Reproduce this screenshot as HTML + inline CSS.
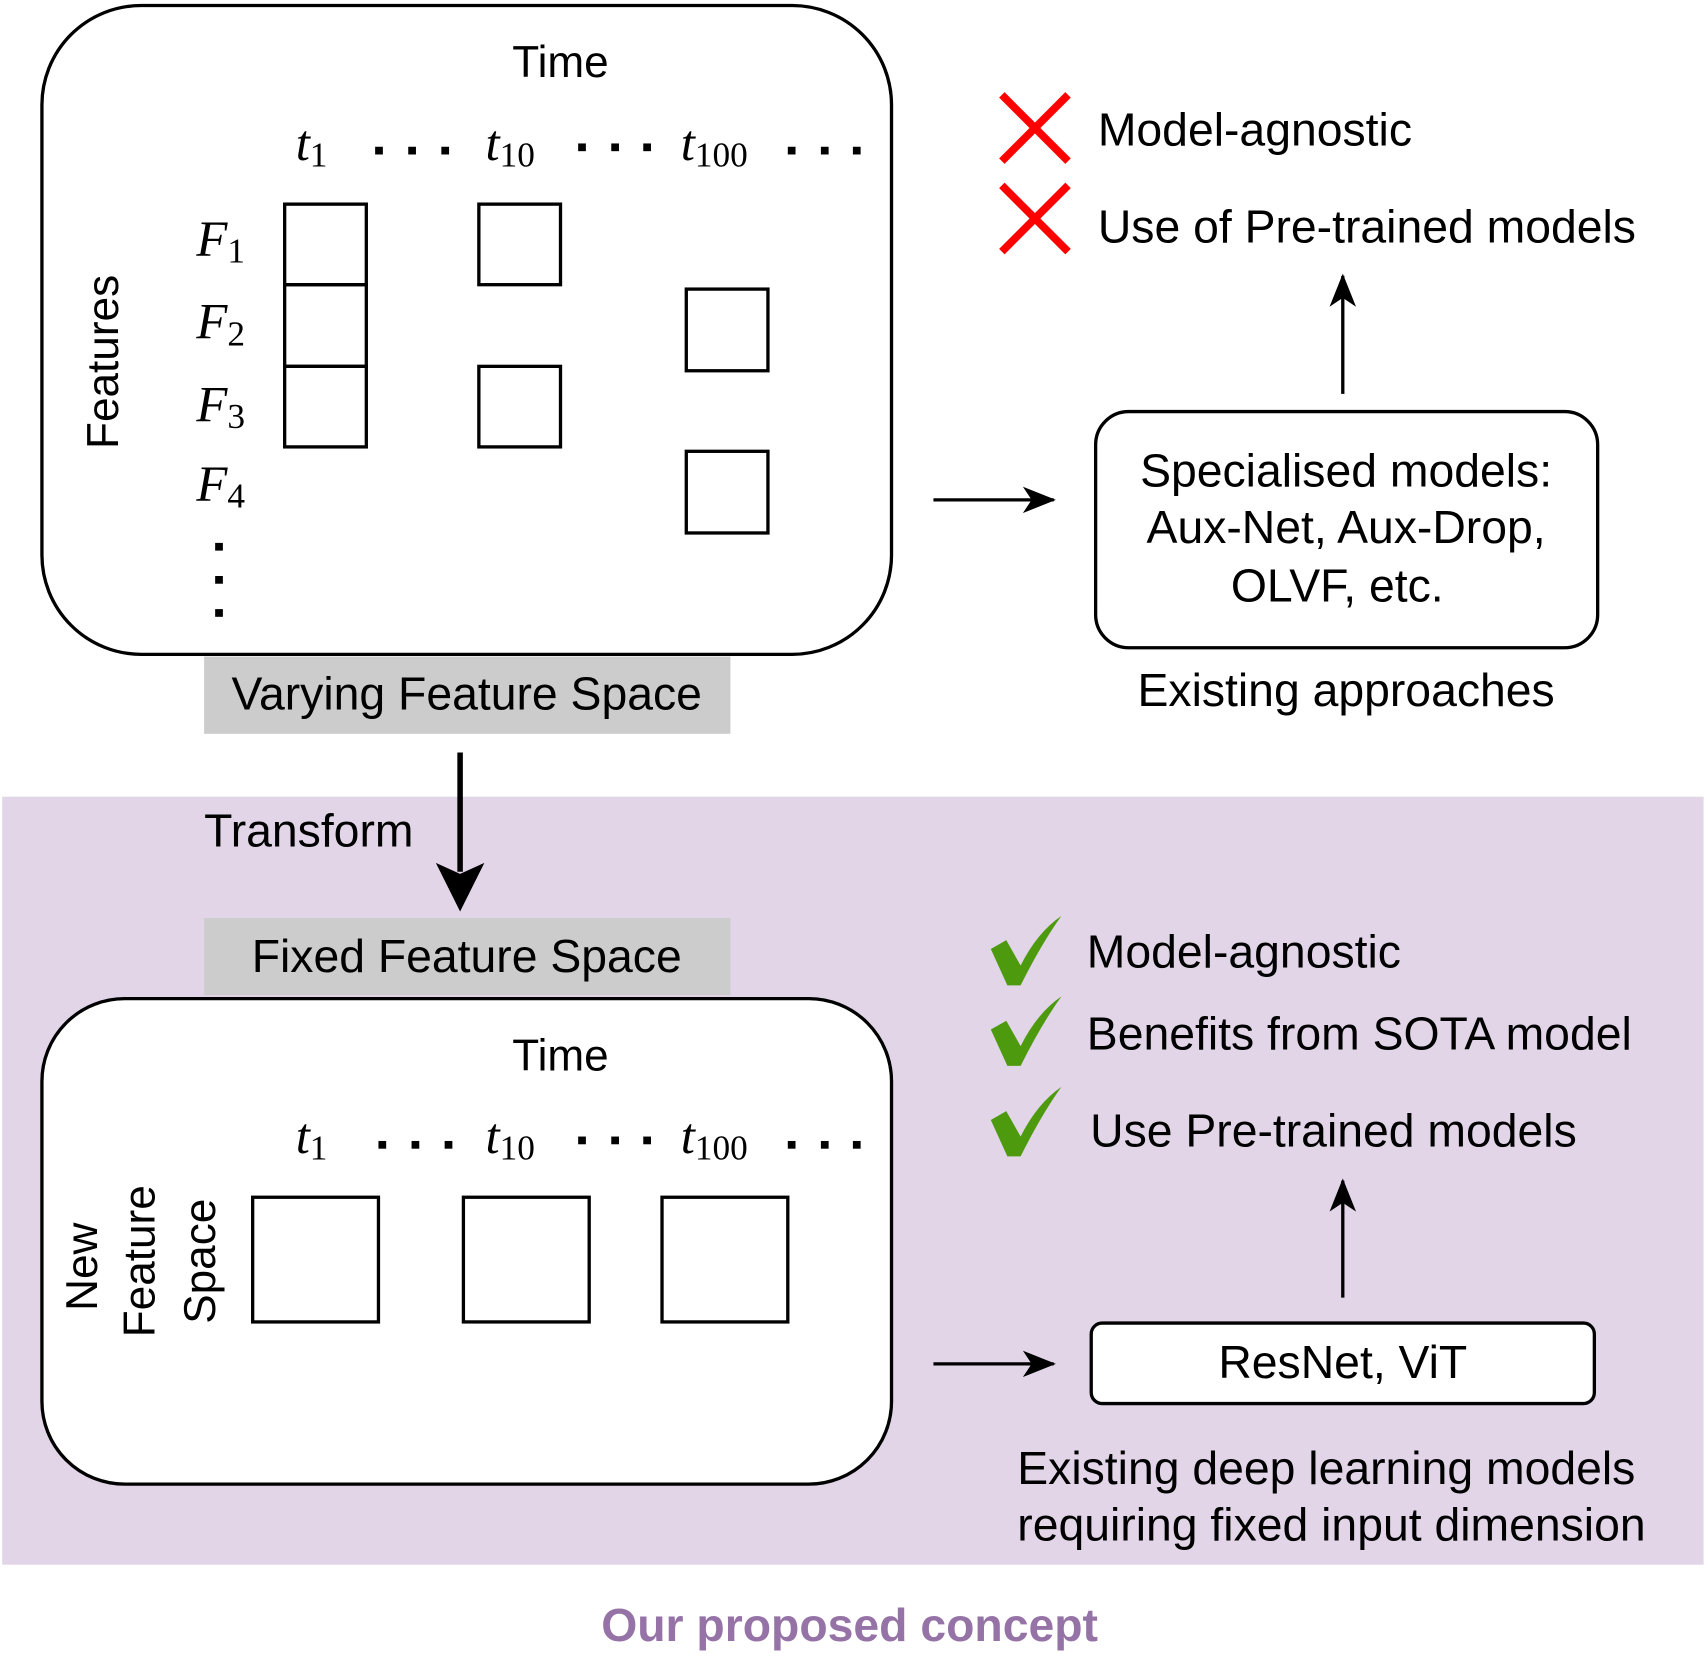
<!DOCTYPE html>
<html><head><meta charset="utf-8"><style>html,body{margin:0;padding:0;background:#fff}svg{display:block}
text{font-family:"Liberation Sans",Arial,sans-serif;fill:#000}
.m{font-family:"Liberation Serif",serif;font-style:italic}
</style></head><body>
<svg width="1708" height="1664" viewBox="0 0 1548 1508" preserveAspectRatio="none" xmlns="http://www.w3.org/2000/svg">
<defs>
<marker id="a" markerWidth="30" markerHeight="30" refX="28" refY="15" orient="auto" markerUnits="userSpaceOnUse" viewBox="0 0 30 30"><path d="M0,3 L30,15 L0,27 L8,15z" fill="#000"/></marker>
</defs>
<rect x="2" y="722" width="1542" height="696" fill="#e1d5e7"/>
<rect x="38" y="5" width="770" height="588" rx="90" fill="#fff" stroke="#000" stroke-width="3"/>
<text x="508" y="70" font-size="40" text-anchor="middle">Time</text>
<g font-size="46">
<text class="m" x="268" y="145">t<tspan font-size="32" font-style="normal" dy="6">1</tspan></text>
<text class="m" x="440" y="145">t<tspan font-size="32" font-style="normal" dy="6">10</tspan></text>
<text class="m" x="617" y="145">t<tspan font-size="32" font-style="normal" dy="6">100</tspan></text>
<text class="m" x="178" y="232">F<tspan font-size="32" font-style="normal" dy="6">1</tspan></text>
<text class="m" x="178" y="307">F<tspan font-size="32" font-style="normal" dy="6">2</tspan></text>
<text class="m" x="178" y="382">F<tspan font-size="32" font-style="normal" dy="6">3</tspan></text>
<text class="m" x="178" y="454">F<tspan font-size="32" font-style="normal" dy="6">4</tspan></text>
</g>
<g fill="#000">
<rect x="340" y="133" width="7" height="7"/><rect x="370" y="133" width="7" height="7"/><rect x="400" y="133" width="7" height="7"/>
<rect x="524" y="130" width="7" height="7"/><rect x="554" y="130" width="7" height="7"/><rect x="583" y="130" width="7" height="7"/>
<rect x="714" y="133" width="7" height="7"/><rect x="744" y="133" width="7" height="7"/><rect x="773" y="133" width="7" height="7"/>
<rect x="195" y="492" width="7" height="7"/><rect x="195" y="522" width="7" height="7"/><rect x="195" y="552" width="7" height="7"/>
</g>
<g fill="none" stroke="#000" stroke-width="3">
<rect x="258" y="185" width="74" height="73"/><rect x="258" y="258" width="74" height="74"/><rect x="258" y="332" width="74" height="73"/>
<rect x="434" y="185" width="74" height="73"/><rect x="434" y="332" width="74" height="73"/>
<rect x="622" y="262" width="74" height="74"/><rect x="622" y="409" width="74" height="74"/>
</g>
<text transform="translate(107,328) rotate(-90)" font-size="40" text-anchor="middle">Features</text>
<rect x="185" y="595" width="477" height="70" fill="#ccc"/>
<text x="423" y="643" font-size="42" text-anchor="middle">Varying Feature Space</text>
<line x1="846" y1="453" x2="955" y2="453" stroke="#000" stroke-width="3" marker-end="url(#a)"/>
<rect x="993" y="373" width="455" height="214" rx="30" fill="#fff" stroke="#000" stroke-width="3"/>
<g font-size="42" text-anchor="middle">
<text x="1220" y="441">Specialised models:</text>
<text x="1220" y="492">Aux-Net, Aux-Drop,</text>
<text x="1212" y="545">OLVF, etc.</text>
<text x="1220" y="640">Existing approaches</text>
</g>
<line x1="1217" y1="357" x2="1217" y2="250" stroke="#000" stroke-width="3" marker-end="url(#a)"/>
<g stroke="#f00" stroke-width="7">
<line x1="908" y1="86" x2="968" y2="146"/><line x1="968" y1="86" x2="908" y2="146"/>
<line x1="908" y1="168" x2="968" y2="228"/><line x1="968" y1="168" x2="908" y2="228"/>
</g>
<text x="995" y="132" font-size="42">Model-agnostic</text>
<text x="995" y="220" font-size="42">Use of Pre-trained models</text>
<line x1="417" y1="682" x2="417" y2="790" stroke="#000" stroke-width="5"/>
<path d="M395,782 L417,826 L439,782 L417,792z" fill="#000"/>
<text x="185" y="767" font-size="42">Transform</text>
<rect x="185" y="832" width="477" height="70" fill="#ccc"/>
<text x="423" y="881" font-size="42" text-anchor="middle">Fixed Feature Space</text>
<rect x="38" y="905" width="770" height="440" rx="75" fill="#fff" stroke="#000" stroke-width="3"/>
<text x="508" y="970" font-size="40" text-anchor="middle">Time</text>
<g font-size="46">
<text class="m" x="268" y="1045">t<tspan font-size="32" font-style="normal" dy="6">1</tspan></text>
<text class="m" x="440" y="1045">t<tspan font-size="32" font-style="normal" dy="6">10</tspan></text>
<text class="m" x="617" y="1045">t<tspan font-size="32" font-style="normal" dy="6">100</tspan></text>
</g>
<g fill="#000">
<rect x="343" y="1034" width="7" height="7"/><rect x="373" y="1034" width="7" height="7"/><rect x="403" y="1034" width="7" height="7"/>
<rect x="524" y="1030" width="7" height="7"/><rect x="554" y="1030" width="7" height="7"/><rect x="583" y="1030" width="7" height="7"/>
<rect x="714" y="1034" width="7" height="7"/><rect x="744" y="1034" width="7" height="7"/><rect x="773" y="1034" width="7" height="7"/>
</g>
<g fill="none" stroke="#000" stroke-width="3">
<rect x="229" y="1085" width="114" height="113"/><rect x="420" y="1085" width="114" height="113"/><rect x="600" y="1085" width="114" height="113"/>
</g>
<g font-size="40" text-anchor="middle">
<text transform="translate(88,1148) rotate(-90)">New</text>
<text transform="translate(140,1143) rotate(-90)">Feature</text>
<text transform="translate(195,1143) rotate(-90)">Space</text>
</g>
<line x1="846" y1="1236" x2="955" y2="1236" stroke="#000" stroke-width="3" marker-end="url(#a)"/>
<rect x="989" y="1199" width="456" height="73" rx="10" fill="#fff" stroke="#000" stroke-width="3"/>
<text x="1217" y="1249" font-size="42" text-anchor="middle">ResNet, ViT</text>
<line x1="1217" y1="1176" x2="1217" y2="1070" stroke="#000" stroke-width="3" marker-end="url(#a)"/>
<g fill="#4d9a0f">
<path d="M898,860 L912,852 L925,875 Q940,845 962,830 Q944,855 925,893 L913,893z"/>
<path d="M898,933 L912,925 L925,948 Q940,918 962,903 Q944,928 925,966 L913,966z"/>
<path d="M898,1015 L912,1007 L925,1030 Q940,1000 962,985 Q944,1010 925,1048 L913,1048z"/>
</g>
<g font-size="42">
<text x="985" y="877">Model-agnostic</text>
<text x="985" y="951">Benefits from SOTA model</text>
<text x="988" y="1039">Use Pre-trained models</text>
<text x="922" y="1345">Existing deep learning models</text>
<text x="922" y="1396">requiring fixed input dimension</text>
</g>
<text x="770" y="1487" font-size="42" font-weight="bold" text-anchor="middle" style="fill:#9673a6">Our proposed concept</text>
</svg>
</body></html>
